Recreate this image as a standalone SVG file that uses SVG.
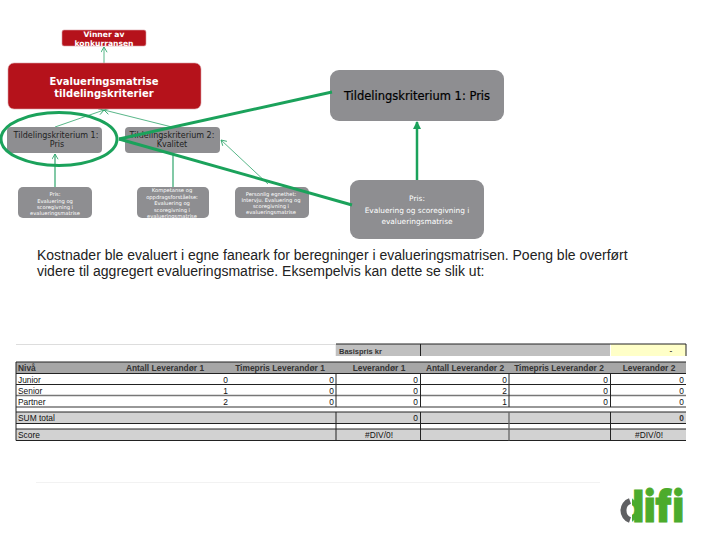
<svg xmlns="http://www.w3.org/2000/svg" width="720" height="540" viewBox="0 0 720 540">
<style>
text{font-family:"DejaVu Sans",sans-serif;text-anchor:middle}
.red{fill:#b5121b;stroke:#d9a0a4;stroke-width:.6}
.gr{fill:#8e8e91}
.big{fill:#8e8e91}
.w{fill:#fff;font-size:5.2px}
.c{fill:#222;font-size:8px}
.thin{stroke:#2ea56b;stroke-width:.8;fill:none}
.thick{stroke:#1ba25b;stroke-width:3;fill:none}
.x{font-family:"Liberation Sans",sans-serif;font-size:8.4px;fill:#111}
.h{font-weight:bold;fill:#333}
.l{text-anchor:start}.r{text-anchor:end}
.ln{stroke:#222;stroke-width:1;fill:none}
.lg{stroke:#777;stroke-width:1.3;fill:none}
.b{fill:#d2d2d2}
.hd{fill:#a6a6a6}
.top{fill:#c0c0c0}
</style>
<defs>
<marker id="a" viewBox="0 0 8 8" refX="7" refY="4" markerWidth="7" markerHeight="7" markerUnits="userSpaceOnUse" orient="auto"><path d="M1 0.5L7 4L1 7.5" fill="none" stroke="#2ea56b" stroke-width="1"/></marker>
<marker id="b" viewBox="0 0 8 8" refX="7" refY="4" markerWidth="8" markerHeight="8" markerUnits="userSpaceOnUse" orient="auto"><path d="M0 0L8 4L0 8Z" fill="#1ba25b"/></marker>
</defs>
<rect width="720" height="540" fill="#fff"/>
<g id="connectors">
<path class="thin" d="M104 63V47" marker-end="url(#a)"/>
<path class="thin" d="M55 127L104 110" marker-end="url(#a)"/>
<path class="thin" d="M172 127L104 110" marker-end="url(#a)"/>
<path class="thin" style="stroke-width:1.2" d="M55 187V154" marker-end="url(#a)"/>
<path class="thin" style="stroke-width:1.2" d="M173 187V153"/>
<path class="thin" d="M268 184L221 140" marker-end="url(#a)"/>
<path class="thick" style="stroke-width:2.5" d="M417 180V122" marker-end="url(#b)"/>
</g>
<g id="n-vinner"><rect class="red" x="62" y="30" width="84" height="16" rx="2"/><text x="104" y="37" fill="#fff" font-size="7.6" font-weight="bold">Vinner av</text><text x="104" y="46" fill="#fff" font-size="7.6" font-weight="bold">konkurransen</text></g>
<g id="n-matrise"><rect class="red" x="8" y="63" width="193" height="46" rx="6"/><text x="104" y="85" fill="#fff" font-size="10" font-weight="bold">Evalueringsmatrise</text><text x="104" y="97" fill="#fff" font-size="10" font-weight="bold">tildelingskriterier</text></g>
<g id="n-krit1"><rect class="gr" x="7" y="127" width="95" height="26" rx="4"/><text class="c" x="56" y="138">Tildelingskriterium 1:</text><text class="c" x="57" y="147">Pris</text></g>
<g id="n-krit2"><rect class="gr" x="125" y="127" width="95" height="26" rx="4"/><text class="c" x="172" y="138">Tildelingskriterium 2:</text><text class="c" x="172" y="147">Kvalitet</text></g>
<g id="n-pris"><rect class="gr" x="18" y="187" width="74" height="31" rx="5"/><text class="w" x="55" y="196">Pris:</text><text class="w" x="55" y="203">Evaluering og</text><text class="w" x="55" y="209">scoregivning i</text><text class="w" x="55" y="215">evalueringsmatrise</text></g>
<g id="n-kompetanse"><rect class="gr" x="137" y="187" width="72" height="31" rx="5"/><text class="w" x="172" y="192">Kompetanse og</text><text class="w" x="172" y="199">oppdragsforståelse:</text><text class="w" x="172" y="205">Evaluering og</text><text class="w" x="172" y="212">scoregivning i</text><text class="w" x="172" y="218">evalueringsmatrise</text></g>
<g id="n-personlig"><rect class="gr" x="235" y="187" width="74" height="31" rx="5"/><text class="w" x="271" y="196">Personlig egnethet:</text><text class="w" x="271" y="202">Intervju. Evaluering og</text><text class="w" x="271" y="208">scoregivning i</text><text class="w" x="271" y="214">evalueringsmatrise</text></g>
<g id="n-stor"><rect class="big" x="330" y="70" width="174" height="51" rx="9"/><text x="417" y="100" font-size="11.500" fill="#000" stroke="#000" stroke-width=".2">Tildelingskriterium 1: Pris</text></g>
<g id="n-storpris"><rect class="big" x="350" y="180" width="134" height="59" rx="9"/><text x="417" y="201" fill="#fff" font-size="7.400">Pris:</text><text x="417" y="213" fill="#fff" font-size="7.400">Evaluering og scoregivning i</text><text x="417" y="224" fill="#fff" font-size="7.400">evalueringsmatrise</text></g>
<g id="markering">
<ellipse cx="59" cy="139" rx="58" ry="26.500" class="thick"/>
<path class="thick" d="M119 139L332 92"/>
<path class="thick" d="M119 139L352 205"/>
</g>
<g id="brodtekst">
<text x="37" y="259.500" font-size="14" fill="#222" style="font-family:'Liberation Sans',sans-serif;text-anchor:start">Kostnader ble evaluert i egne faneark for beregninger i evalueringsmatrisen. Poeng ble overført</text>
<text x="37" y="275.500" font-size="14" fill="#222" style="font-family:'Liberation Sans',sans-serif;text-anchor:start">videre til aggregert evalueringsmatrise. Eksempelvis kan dette se slik ut:</text>
</g>
<g id="tabell">
<path d="M16 344.500H336V356" stroke="#ddd" fill="none"/>
<rect class="top" x="336" y="344" width="274" height="12"/>
<rect x="611" y="344" width="75" height="12" fill="#ffffc8"/>
<path class="ln" d="M336 344H686V356M420.500 344V356"/>
<rect class="hd" x="16" y="362" width="670" height="11"/>
<rect class="b" x="16" y="412" width="670" height="11.500"/>
<rect class="b" x="16" y="429" width="670" height="11.500"/>
<path class="ln" d="M16 362H686M16 373.500H686M16 384.500H686M16 412H686M16 423.500H686M16 429H686M16 440.500H686"/>
<path class="lg" d="M16 395.500H686M16 407H686"/>
<path class="ln" d="M16 362V440.500M336 373V407M420.500 373V407M509 373V407M610.500 373V407M336 412V440.500M420.500 412V440.500M610.500 412V440.500"/>
<path d="M509 412V440.500" stroke="#666" stroke-width="1.300"/>
<text class="x h l" x="339" y="353.500" style="font-size:7.500px">Basispris kr</text>
<text class="x" x="671" y="353.500">-</text>
<text class="x h l" x="18" y="371">Nivå</text>
<text class="x h" x="165" y="371">Antall Leverandør 1</text>
<text class="x h" x="280" y="371">Timepris Leverandør 1</text>
<text class="x h" x="379" y="371">Leverandør 1</text>
<text class="x h" x="465" y="371">Antall Leverandør 2</text>
<text class="x h" x="559" y="371">Timepris Leverandør 2</text>
<text class="x h" x="649" y="371">Leverandør 2</text>
<text class="x l" x="18" y="382.500">Junior</text><text class="x l" x="18" y="393.500">Senior</text><text class="x l" x="18" y="405">Partner</text>
<text class="x l" x="18" y="421">SUM total</text><text class="x l" x="18" y="438">Score</text>
<text class="x r" x="228" y="382.500">0</text><text class="x r" x="228" y="393.500">1</text><text class="x r" x="228" y="405">2</text>
<text class="x r" x="334" y="382.500">0</text><text class="x r" x="334" y="393.500">0</text><text class="x r" x="334" y="405">0</text>
<text class="x r" x="418" y="382.500">0</text><text class="x r" x="418" y="393.500">0</text><text class="x r" x="418" y="405">0</text><text class="x r" x="418" y="421">0</text>
<text class="x r" x="507" y="382.500">0</text><text class="x r" x="507" y="393.500">2</text><text class="x r" x="507" y="405">1</text>
<text class="x r" x="608" y="382.500">0</text><text class="x r" x="608" y="393.500">0</text><text class="x r" x="608" y="405">0</text>
<text class="x r" x="684" y="382.500">0</text><text class="x r" x="684" y="393.500">0</text><text class="x r" x="684" y="405">0</text><text class="x r h" x="684" y="421">0</text>
<text class="x" x="379" y="438">#DIV/0!</text><text class="x" x="649" y="438">#DIV/0!</text>
</g>
<path d="M36 482.500H600" stroke="#f2f2f2"/>
<g id="logo">
<text x="619" y="522" font-size="44" font-weight="900" fill="#4cab2c" stroke="#4cab2c" stroke-width="1" style="font-family:'Inter',sans-serif;text-anchor:start" textLength="65" lengthAdjust="spacingAndGlyphs">difi</text>
<rect x="616" y="496" width="16" height="28" fill="#fff"/>
<path d="M630 501A9.500 10 0 0 0 630 520" fill="none" stroke="#5f6062" stroke-width="6"/>
</g>
</svg>
